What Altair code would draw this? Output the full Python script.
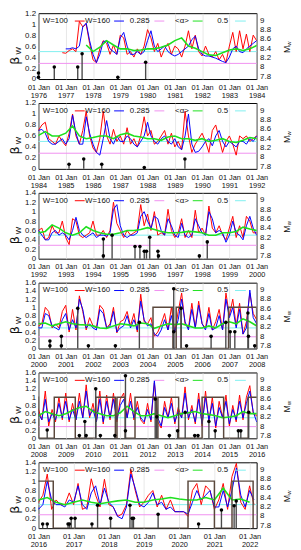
import altair as alt
import pandas as pd

FONT = "Liberation Sans"
STEP = 0.125   # spacing of the beta series (years)
GSTEP = 0.25   # spacing of the <alpha> series (years)

panel_start = [1976, 1984, 1992, 2000, 2008, 2016]
panel_end = [1984, 1992, 2000, 2008, 2016, 2022.2]
beta_top = [1.2, 1.2, 1.4, 1.6, 1.6, 1.4]

# ---- beta_W, window W=100 (red) ----
red_1976 = [None, None, None, None, None, None, None,
            0.48, 0.47, 0.52, 0.55, 0.50, 1.05, 0.95, 1.00, 0.65, 0.35,
            0.30, 0.55, 0.70, 0.65, 0.45, 0.62, 0.45, 0.80, 0.75, 0.45,
            0.50, 0.40, 0.55, 0.45, 0.60, 0.90, 0.75, 0.50, 0.65, 0.40,
            0.55, 0.65, 0.45, 0.60, 0.55, 0.40, 0.60, 0.88, 0.55, 0.80,
            0.50, 0.42, 0.60, 0.45, 0.40, 0.50, 0.35, 0.45, 0.30, 0.60,
            0.85, 0.50, 0.88, 0.55, 0.82, 0.50, 0.80]
red_1984 = [0.70, 0.80, 0.85, 0.55, 0.50, 0.45, 0.60, 0.50, 0.42, 0.65,
            1.00, 0.60, 0.45, 0.70, 1.05, 0.60, 0.38, 0.30, 0.55, 1.05,
            0.60, 0.45, 0.72, 0.50, 0.60, 0.45, 0.75, 0.45, 0.55, 0.40,
            0.60, 0.95, 0.60, 0.70, 0.45, 0.50, 0.60, 0.70, 0.45, 0.65,
            0.40, 0.50, 0.35, 1.05, 0.60, 0.30, 0.45, 0.55, 0.65, 0.50,
            0.30, 0.70, 0.80, 0.55, 0.30, 0.50, 0.60, 0.45, 0.25, 0.60,
            0.55, 0.60, 0.50, 0.55]
red_1992 = [0.60, 0.65, 0.40, 0.45, 0.70, 0.55, 0.55, 0.80, 0.45, 0.30,
            0.85, 0.80, 0.50, 0.45, 0.50, 0.55, 0.80, 0.50, 0.50, 0.60,
            0.45, 0.60, 1.20, 0.75, 0.60, 0.45, 0.60, 0.50, 0.55, 0.60,
            1.15, 0.70, 0.95, 0.60, 1.00, 0.50, 0.55, 0.50, 1.05, 0.60,
            0.45, 0.55, 0.85, 0.45, 0.60, 0.45, 1.03, 0.55, 0.65, 0.50,
            1.12, 0.65, 0.55, 0.70, 0.50, 0.40, 0.65, 0.90, 0.45, 0.70,
            0.45, 0.90, 0.80, 0.55]
red_2000 = [0.55, 0.60, 1.00, 0.90, 0.50, 0.60, 0.50, 0.90, 1.05, 0.40,
            0.95, 0.45, 1.28, 0.90, 0.45, 0.75, 0.55, 0.50, 1.05, 0.95,
            0.50, 0.60, 1.00, 0.38, 0.65, 0.70, 0.90, 0.55, 0.85, 0.40,
            1.32, 0.65, 0.60, 0.75, 0.30, 0.40, 0.60, 0.85, 0.45, 1.00,
            0.40, 0.90, 1.35, 0.60, 0.50, 1.10, 0.50, 1.15, 0.60, 0.50,
            1.00, 0.45, 0.65, 0.95, 0.45, 1.35, 0.80, 1.20, 0.55, 1.10,
            0.35, 0.65, 1.35, 0.85]
red_2008 = [0.70, 0.45, 1.15, 0.30, 0.70, 0.40, 1.00, 0.45, 1.10, 0.40,
            0.85, 0.45, 1.10, 0.50, 1.30, 0.50, 0.85, 0.40, 1.15, 0.35,
            1.05, 0.45, 1.10, 0.40, 0.95, 1.10, 0.50, 1.10, 0.45, 0.90,
            0.45, 0.35, 0.85, 0.40, 1.35, 0.40, 0.25, 0.90, 0.50, 1.00,
            0.35, 0.75, 0.50, 1.25, 0.45, 0.80, 0.35, 1.10, 0.30, 1.15,
            0.40, 1.00, 0.25, 0.90, 0.50, 1.05, 0.30, 0.80, 0.40, 1.05,
            0.45, 1.00, 1.28, 0.60]
red_2016 = [0.55, 0.70, 1.15, 0.40, 0.60, 0.50, 0.50, 0.75, 0.50, 0.95,
            0.40, 0.45, 1.05, 0.70, 0.45, 1.04, 0.50, 0.45, 0.25, 0.30,
            0.50, 1.25, 0.80, 0.45, 0.55, 0.70, 0.80, 0.45, 0.70, 0.40,
            0.60, 0.35, 0.35, 0.35, 0.25, 0.80, 0.95, 0.50, 0.90, 0.80,
            0.40, 0.60, 0.95, 0.40, 1.10, 1.38, 0.55, 0.40, 0.90, 0.50]

# ---- beta_W, window W=160 (blue) ----
blue_1976 = [None, None, None, None, None, None, None, None,
             0.55, 0.55, 0.57, 0.55, 0.60, 0.95, 1.02, 0.70, 0.45, 0.30,
             0.45, 0.68, 0.70, 0.55, 0.50, 0.45, 0.75, 0.85, 0.60, 0.45,
             0.45, 0.50, 0.45, 0.50, 0.70, 0.88, 0.60, 0.50, 0.55, 0.60,
             0.50, 0.45, 0.42, 0.45, 0.50, 0.55, 0.60, 0.72, 0.78, 0.55,
             0.45, 0.42, 0.42, 0.40, 0.38, 0.35, 0.32, 0.30, 0.40, 0.55,
             0.60, 0.50, 0.48, 0.55, 0.60, 0.65]
blue_1984 = [0.70, 0.72, 0.65, 0.50, 0.45, 0.45, 0.50, 0.55, 0.45, 0.55,
             0.98, 0.65, 0.45, 0.45, 0.95, 0.65, 0.45, 0.30, 0.25, 0.55,
             0.88, 0.55, 0.45, 0.60, 0.50, 0.50, 0.60, 0.55, 0.45, 0.40,
             0.50, 0.60, 0.85, 0.60, 0.50, 0.45, 0.55, 0.60, 0.50, 0.45,
             0.55, 0.40, 0.35, 0.60, 1.00, 0.45, 0.30, 0.32, 0.40, 0.50,
             0.55, 0.42, 0.60, 0.70, 0.50, 0.40, 0.50, 0.45, 0.40, 0.50,
             0.50, 0.45, 0.55, 0.50]
blue_1992 = [0.60, 0.50, 0.40, 0.40, 0.55, 0.60, 0.50, 0.55, 0.50, 0.40,
             0.60, 0.88, 0.60, 0.50, 0.45, 0.50, 0.55, 0.45, 0.50, 0.50,
             0.48, 0.55, 1.05, 1.15, 0.70, 0.50, 0.45, 0.50, 0.50, 0.55,
             0.90, 1.00, 0.80, 0.65, 0.90, 0.85, 0.60, 0.50, 0.85, 0.70,
             0.50, 0.45, 0.75, 0.50, 0.45, 0.50, 0.85, 0.70, 0.55, 0.50,
             1.00, 0.85, 0.55, 0.60, 0.55, 0.35, 0.50, 0.80, 0.55, 0.50,
             0.40, 0.70, 0.90, 0.65]
blue_2000 = [0.50, 0.50, 0.85, 0.80, 0.55, 0.50, 0.45, 0.70, 0.85, 0.45,
             0.70, 0.50, 1.20, 0.95, 0.50, 0.60, 0.50, 0.45, 0.95, 0.85,
             0.50, 0.55, 0.90, 0.40, 0.50, 0.55, 0.80, 0.50, 0.70, 0.45,
             1.15, 0.70, 0.55, 0.60, 0.35, 0.30, 0.45, 0.70, 0.45, 0.80,
             0.40, 0.70, 1.20, 0.65, 0.45, 0.95, 0.50, 1.05, 0.60, 0.45,
             0.85, 0.45, 0.50, 0.80, 0.45, 1.20, 0.75, 1.00, 0.50, 0.95,
             0.35, 0.50, 1.42, 0.75]
blue_2008 = [0.60, 0.45, 0.95, 0.40, 0.60, 0.45, 0.85, 0.50, 0.90, 0.45,
             0.70, 0.45, 0.90, 0.50, 1.15, 0.55, 0.70, 0.40, 0.95, 0.40,
             0.90, 0.50, 0.95, 0.45, 0.80, 0.95, 0.50, 0.90, 0.50, 0.75,
             0.50, 0.40, 0.70, 0.45, 1.40, 0.50, 0.30, 0.75, 0.50, 0.85,
             0.40, 0.65, 0.50, 1.10, 0.50, 0.70, 0.40, 0.95, 0.35, 1.00,
             0.45, 0.85, 0.30, 0.75, 0.50, 0.90, 0.35, 0.70, 0.45, 0.90,
             0.50, 0.85, 1.15, 0.65]
blue_2016 = [0.40, 0.50, 1.00, 0.60, 0.50, 0.50, 0.45, 0.60, 0.55, 0.90,
             0.50, 0.40, 0.75, 0.90, 0.50, 0.85, 0.55, 0.45, 0.25, 0.20,
             0.45, 1.15, 0.85, 0.50, 0.45, 0.55, 0.75, 0.50, 0.55, 0.40,
             0.45, 0.35, 0.35, 0.35, 0.30, 0.55, 0.80, 0.60, 0.70, 0.80,
             0.45, 0.45, 0.80, 0.45, 0.80, 1.28, 0.70, 0.45, 0.80, 0.60]

# ---- <alpha> (green) ----
green_1976 = [None, None, None, None, None, None, None,
              0.62, 0.50, 0.58, 0.70, 0.62, 0.55, 0.55, 0.52, 0.53, 0.55,
              0.55, 0.58, 0.62, 0.70, 0.75, 0.60, 0.56, 0.50, 0.44, 0.43,
              0.48, 0.53, 0.55, 0.52, 0.55]
green_1984 = [0.61, 0.68, 0.60, 0.60, 0.65, 0.78, 0.60, 0.55, 0.57, 0.60,
              0.60, 0.55, 0.62, 0.65, 0.60, 0.58, 0.55, 0.55, 0.52, 0.58,
              0.60, 0.55, 0.55, 0.52, 0.55, 0.50, 0.52, 0.55, 0.50, 0.48,
              0.52, 0.57]
green_1992 = [0.55, 0.58, 0.72, 0.65, 0.55, 0.50, 0.55, 0.68, 0.60, 0.55,
              0.52, 0.52, 0.55, 0.60, 0.60, 0.62, 0.66, 0.62, 0.58, 0.55,
              0.55, 0.56, 0.58, 0.57, 0.55, 0.50, 0.50, 0.55, 0.55, 0.58,
              0.67, 0.63]
green_2000 = [0.60, 0.62, 0.55, 0.60, 0.65, 0.60, 0.58, 0.57, 0.55, 0.50,
              0.49, 0.55, 0.60, 0.58, 0.55, 0.62, 0.60, 0.49, 0.55, 0.60,
              0.58, 0.60, 0.55, 0.50, 0.50, 0.55, 0.50, 0.60, 0.65, 0.60,
              0.72, 0.65]
green_2008 = [0.55, 0.65, 0.60, 0.55, 0.60, 0.68, 0.75, 0.78, 0.65, 0.60,
              0.55, 0.55, 0.62, 0.78, 0.65, 0.55, 0.55, 0.60, 0.55, 0.50,
              0.55, 0.60, 0.62, 0.65, 0.60, 0.58, 0.55, 0.50, 0.52, 0.55,
              0.65, 0.60]
green_2016 = [0.60, 0.65, 0.55, 0.50, 0.55, 0.60, 0.55, 0.52, 0.55, 0.58,
              0.60, 0.55, 0.55, 0.60, 0.62, 0.65, 0.62, 0.60, 0.60, 0.65,
              0.60, 0.85, 0.60, 0.62, 0.55]

# ---- earthquakes (decimal year, Mw) ----
quake_year = [1976.00, 1976.00, 1976.58, 1977.44, 1977.60, 1978.91, 1979.93,
              1985.12, 1985.66, 1986.32, 1987.88, 1989.37,
              1994.38, 1994.38, 1994.70, 1995.54, 1995.72, 1995.88, 1995.96,
              1996.08, 1996.38, 1996.40, 1997.90, 1998.19,
              2000.42, 2000.42, 2000.84, 2000.84, 2001.44, 2001.83, 2002.82,
              2003.70, 2004.96, 2004.96, 2005.23, 2005.43, 2006.33, 2006.87,
              2007.03, 2007.20, 2007.68, 2007.70, 2007.93,
              2008.32, 2009.50, 2009.70, 2009.75, 2010.10, 2010.27, 2010.80,
              2011.19, 2011.19, 2012.28, 2012.34, 2012.80, 2013.10, 2013.38,
              2013.73, 2013.85, 2014.25, 2014.48, 2015.33, 2015.42, 2015.71,
              2016.12, 2016.25, 2016.84, 2016.88, 2016.93, 2017.04, 2017.52,
              2017.68, 2018.05, 2018.60, 2018.66, 2018.70, 2019.40, 2020.55,
              2021.20, 2021.56, 2021.62]
quake_mw = [7.87, 7.78, 8.00, 8.00, 8.28, 7.78, 8.10,
            7.84, 7.95, 7.84, 7.77, 7.95,
            8.16, 7.80, 8.24, 8.00, 8.00, 7.90, 7.90,
            8.20, 7.90, 7.80, 7.80, 8.10,
            7.90, 7.80, 8.00, 7.80, 8.60, 7.80, 7.80,
            8.30, 9.02, 8.10, 8.60, 7.80, 8.00, 8.30,
            8.10, 8.10, 8.50, 8.00, 7.80,
            7.92, 7.80, 8.10, 7.80, 8.80, 7.80, 7.80,
            9.08, 7.90, 8.58, 8.20, 7.80, 7.90, 8.30,
            7.80, 7.80, 8.10, 7.90, 7.90, 7.90, 8.30,
            7.83, 7.83, 7.83, 7.83, 7.95, 7.95, 7.83,
            8.23, 7.95, 8.23, 7.95, 7.95, 8.04, 7.83,
            8.13, 8.22, 8.32]

# ---- alarm periods (step function, 0/1 on the beta axis) ----
alarm_on = [2004.20, 2005.05, 2006.97, 2008.58, 2010.10, 2010.88, 2011.54,
            2012.38, 2014.00, 2015.69, 2020.25, 2021.50]
alarm_off = [2004.93, 2005.23, 2008.00, 2009.35, 2010.82, 2011.18, 2012.32,
             2013.14, 2014.79, 2016.42, 2021.00, 2022.10]

RED, BLUE, PINK, GREEN, CYAN = "#ff0000", "#0000ff", "#f090f0", "#1ee01e", "#80f0f0"
BOX = "#5a483c"


def series(lists, step):
    rows = []
    for start, vals in zip(panel_start, lists):
        for i, v in enumerate(vals):
            if v is not None:
                rows.append((start + i * step, v))
    return pd.DataFrame(rows, columns=["t", "v"])


red_df = series([red_1976, red_1984, red_1992, red_2000, red_2008, red_2016], STEP)
blue_df = series([blue_1976, blue_1984, blue_1992, blue_2000, blue_2008, blue_2016], STEP)
green_df = series([green_1976, green_1984, green_1992, green_2000, green_2008, green_2016], GSTEP)
quake_df = pd.DataFrame({"t": quake_year, "mw": quake_mw})

box_rows = []
k = 0
for a, b in zip(alarm_on, alarm_off):
    for t, v in ((a, 0), (a, 1), (b, 1), (b, 0)):
        box_rows.append((t, v, k))
        k += 1
box_df = pd.DataFrame(box_rows, columns=["t", "v", "k"])

W, H = 222, 67
MW_LO = 7.74
MW_HI = MW_LO + H / 47.5

legend_items = [("W=100", 30, 37, 47, RED), ("W=160", 73, 77, 87, BLUE),
                ("0.285", 113, 118, 128, PINK), ("<\u03b1>", 153, 157, 167, GREEN),
                ("0.5", 193, 200, 211, CYAN)]

one = pd.DataFrame({"a": [0]})


def panel(p):
    s, e, btop = panel_start[p], panel_end[p], beta_top[p]
    xenc = alt.X("t:Q", scale=alt.Scale(domain=[s, e], nice=False, zero=False),
                 axis=alt.Axis(values=list(range(s, int(e) + 1)),
                               labelExpr="['01 Jan', format(datum.value, 'd')]",
                               title=None, grid=True, gridColor="#dedede", gridWidth=0.7,
                               ticks=False, domain=False, labelFont=FONT, labelFontSize=7.5,
                               labelColor="#111", labelPadding=4.5, labelLineHeight=8,
                               labelFlush=False, labelOverlap=False))
    yscale = alt.Scale(domain=[0, btop], nice=False, zero=False)
    yaxis = alt.Axis(values=[round(0.2 * i, 1) for i in range(int(round(btop / 0.2)) + 1)],
                     format="~g", title=None, ticks=False, domain=False, grid=False,
                     labelFont=FONT, labelFontSize=8, labelColor="#111", labelPadding=3)
    y = alt.Y("v:Q", scale=yscale, axis=yaxis)
    lo, hi = s - 0.3, e + 0.3

    def sub(df):
        return df[(df.t >= lo) & (df.t <= hi)]

    layers = [
        alt.Chart(one).mark_rule(color=CYAN, strokeWidth=1).encode(
            y=alt.YDatum(0.5, type="quantitative", scale=yscale, axis=yaxis)),
        alt.Chart(one).mark_rule(color=PINK, strokeWidth=1).encode(
            y=alt.YDatum(0.285, type="quantitative", scale=yscale, axis=yaxis)),
        alt.Chart(sub(red_df)).mark_line(color=RED, strokeWidth=1, clip=True).encode(x=xenc, y=y),
        alt.Chart(sub(blue_df)).mark_line(color=BLUE, strokeWidth=1, clip=True).encode(x=xenc, y=y),
        alt.Chart(sub(green_df)).mark_line(color=GREEN, strokeWidth=1.6, clip=True).encode(x=xenc, y=y),
        alt.Chart(box_df).mark_line(color=BOX, strokeWidth=1.5, clip=True).encode(
            x=xenc, y=y, order="k:Q"),
    ]
    for label, xt, x1, x2, c in legend_items:
        layers.append(alt.Chart(one).mark_text(align="right", baseline="middle", font=FONT,
                                               fontSize=8, color="#111").encode(
            x=alt.value(xt), y=alt.value(8), text=alt.value(label)))
        layers.append(alt.Chart(one).mark_rule(color=c, strokeWidth=1).encode(
            x=alt.value(x1), x2=alt.value(x2), y=alt.value(8)))
    # axis titles (beta_W on the left, M_w on the right)
    layers.append(alt.Chart(one).mark_text(angle=270, font="DejaVu Sans", fontSize=13,
                                           color="#111", align="center", baseline="middle").encode(
        x=alt.value(-24), y=alt.value(H * 0.72), text=alt.value("\u03b2")))
    layers.append(alt.Chart(one).mark_text(angle=270, font=FONT, fontSize=8,
                                           color="#111", align="center", baseline="middle").encode(
        x=alt.value(-19.5), y=alt.value(H * 0.72 - 10), text=alt.value("W")))
    layers.append(alt.Chart(one).mark_text(angle=270, font=FONT, fontSize=9,
                                           color="#111", align="center", baseline="middle").encode(
        x=alt.value(W + 31), y=alt.value(H * 0.55), text=alt.value("M")))
    layers.append(alt.Chart(one).mark_text(angle=270, font=FONT, fontSize=6,
                                           color="#111", align="center", baseline="middle").encode(
        x=alt.value(W + 33), y=alt.value(H * 0.55 - 6), text=alt.value("w")))
    left = alt.layer(*layers)

    yr_scale = alt.Scale(domain=[MW_LO, MW_HI], nice=False, zero=False)
    yr_axis = alt.Axis(orient="right", values=[7.8, 8.0, 8.2, 8.4, 8.6, 8.8, 9.0], format="~g",
                       title=None, ticks=False, domain=False, grid=False, labelFont=FONT,
                       labelFontSize=8, labelColor="#111", labelPadding=3)
    qd = quake_df[(quake_df.t >= s) & (quake_df.t <= e)]
    yr = alt.Y("mw:Q", scale=yr_scale, axis=yr_axis)
    stems = alt.Chart(qd).mark_rule(color="#4a4a4a", strokeWidth=1.4).encode(
        x=xenc, y=yr, y2=alt.datum(MW_LO))
    dots = alt.Chart(qd).mark_circle(color="black", size=13, opacity=1).encode(x=xenc, y=yr)
    right = alt.layer(stems, dots)

    return alt.layer(left, right).resolve_scale(y="independent").properties(width=W, height=H)


chart = alt.vconcat(*[panel(p) for p in range(6)], spacing=24.4, bounds="flush").resolve_scale(
    x="independent", y="independent").properties(
    padding={"left": 0, "top": -4.5, "right": 0, "bottom": 0}).configure_view(
    stroke="black", strokeWidth=1)

chart.save("out.html", embed_options={"renderer": "svg", "actions": False})
